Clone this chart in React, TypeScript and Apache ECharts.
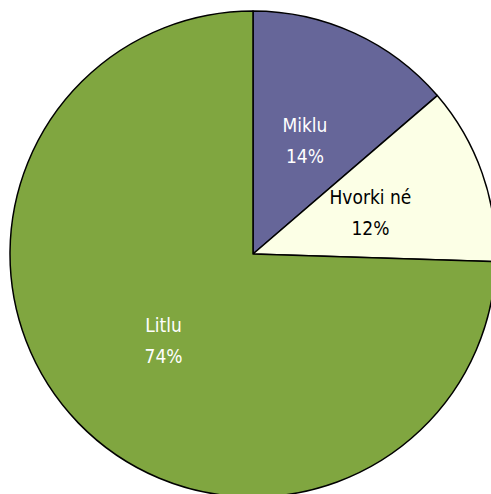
import React, { useEffect, useRef } from "react";
import * as echarts from "echarts";

const categories = ["Miklu", "Hvorki né", "Litlu"];
const values = [13.7, 11.8, 74.5];
const colors = ["#666699", "#FCFFE6", "#80A640"];
const labelColors = ["#FFFFFF", "#000000", "#FFFFFF"];

export default function App() {
  const ref = useRef<HTMLDivElement>(null);
  useEffect(() => {
    if (!ref.current) return;
    const chart = echarts.init(ref.current, null, { renderer: "svg" });
    chart.setOption({
      animation: false,
      backgroundColor: "#FFFFFF",
      series: [
        {
          type: "pie",
          center: [253, 254],
          radius: [0, 243],
          startAngle: 90,
          clockwise: true,
          percentPrecision: 0,
          avoidLabelOverlap: false,
          itemStyle: { borderColor: "#000000", borderWidth: 1.5 },
          emphasis: { disabled: true },
          label: {
            show: true,
            position: "inside",
            formatter: "{b}\n{d}%",
            fontFamily: "'Liberation Sans Narrow', 'DejaVu Sans Condensed', sans-serif",
            fontSize: 19,
            lineHeight: 31,
            align: "center",
          },
          labelLine: { show: false },
          data: categories.map((name, i) => ({
            name,
            value: values[i],
            itemStyle: { color: colors[i] },
            label: { color: labelColors[i] },
          })),
        },
      ],
    });
    return () => chart.dispose();
  }, []);
  return (
    <div
      ref={ref}
      style={{ position: "absolute", left: 0, top: 0, width: 491, height: 494 }}
    />
  );
}
